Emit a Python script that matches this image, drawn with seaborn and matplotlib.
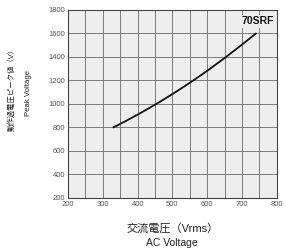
import numpy as np
import pandas as pd
import seaborn as sns
import matplotlib.pyplot as plt
from matplotlib.ticker import MultipleLocator

# Curve values
ac_voltage = [330, 360, 400, 430, 455, 500, 530, 560, 600, 630, 655, 700, 740]
peak_voltage = [800, 845, 909, 959, 1002, 1084, 1141, 1200, 1282, 1347, 1402, 1505, 1600]
x_ticks = [200, 300, 400, 500, 600, 700, 800]
y_ticks = [200, 400, 600, 800, 1000, 1200, 1400, 1600, 1800]

data = pd.DataFrame({"AC Voltage": ac_voltage, "Peak Voltage": peak_voltage})

sns.set_style("white")
plt.rcParams['font.family'] = ['Liberation Sans', 'Noto Sans CJK JP', 'DejaVu Sans']

fig = plt.figure(figsize=(2.86, 2.48), dpi=100)
ax = fig.add_axes([0.238, 0.202, 0.730, 0.758])
ax.set_facecolor('#eeeeee')

# Grid: verticals every 50 V, horizontals every 200 V
for xv in np.arange(250, 800, 50):
    ax.axvline(xv, color='#6a6a6a', lw=0.6, zorder=1)
for yv in y_ticks[1:-1]:
    ax.axhline(yv, color='#6a6a6a', lw=0.6, zorder=1)

sns.lineplot(x="AC Voltage", y="Peak Voltage", data=data, color='#111111',
             lw=1.3, ax=ax, zorder=3)

ax.set_xlim(200, 800)
ax.set_ylim(200, 1800)
ax.set_xticks(x_ticks)
ax.set_yticks(y_ticks)
ax.yaxis.set_minor_locator(MultipleLocator(100))
ax.tick_params(axis='both', which='major', labelsize=5.5, colors='#555555',
               length=0, pad=2)
ax.tick_params(axis='y', which='minor', direction='in', length=4,
               color='#555555', width=0.7)
ax.set_xlabel("")
ax.set_ylabel("")
for s in ax.spines.values():
    s.set_color('#444444')
    s.set_linewidth(0.8)

ax.text(0.985, 0.965, "70SRF", transform=ax.transAxes, ha='right', va='top',
        fontsize=7.5, fontweight='bold', color='#111111', zorder=5,
        bbox=dict(facecolor='#eeeeee', edgecolor='none', pad=0.8))

# Axis labels (Japanese + English)
fig.text(12 / 286, 1 - 88 / 248, "動作過電圧ピーク値（V）", rotation=90,
         ha='center', va='center', fontsize=5.3, color='#222222')
fig.text(28 / 286, 1 - 93 / 248, "Peak Voltage", rotation=90,
         ha='center', va='center', fontsize=5.6, color='#222222')
fig.text(173 / 286, 1 - 228 / 248, "交流電圧（Vrms）", ha='center',
         va='center', fontsize=8, color='#222222')
fig.text(172 / 286, 1 - 243 / 248, "AC Voltage", ha='center',
         va='center', fontsize=7.5, color='#222222')

fig.savefig('out.png', dpi=100)
plt.close()
